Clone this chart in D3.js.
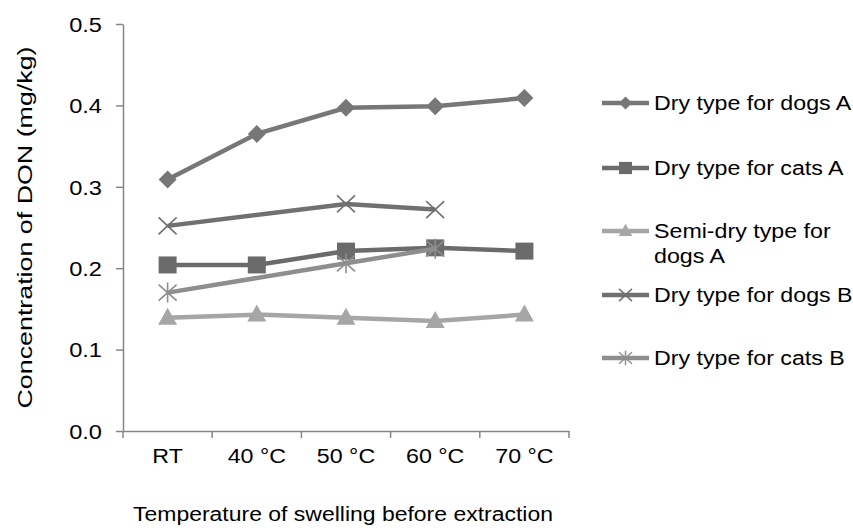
<!DOCTYPE html>
<html>
<head>
<meta charset="utf-8">
<script src="https://cdn.jsdelivr.net/npm/d3@7"></script>
<style>
  body { margin: 0; background: #fff; }
  text { font-family: "Liberation Sans", Arial, sans-serif; fill: #000; }
</style>
</head>
<body>
<div id="chart-container"></div>
<script>
// DON concentration vs swelling temperature
const svgWidth = 853;
const svgHeight = 528;
const margin = { top: 24, right: 284, bottom: 97, left: 123 };
const width = svgWidth - margin.left - margin.right;
const height = svgHeight - margin.top - margin.bottom;

const temps = ["RT", "40 °C", "50 °C", "60 °C", "70 °C"];
const seriesNames = ["Dry type for dogs A", "Dry type for cats A", "Semi-dry type for dogs A", "Dry type for dogs B", "Dry type for cats B"];
const dogsA = [0.309, 0.365, 0.397, 0.399, 0.409];
const catsA = [0.204, 0.204, 0.221, 0.225, 0.221];
const semiDogsA = [0.139, 0.143, 0.139, 0.135, 0.143];
const dogsB = [0.252, null, 0.279, 0.272, null];
const catsB = [0.170, null, 0.206, 0.224, null];
const yTicks = [0, 0.1, 0.2, 0.3, 0.4, 0.5];

const colors = ["#777777", "#6b6b6b", "#a6a6a6", "#707070", "#8e8e8e"];
const markers = ["diamond", "square", "triangle", "x", "star"];
const allValues = [dogsA, catsA, semiDogsA, dogsB, catsB];

// the reference text is drawn wide, so stretch glyphs a bit
function stretch(sel, k) {
    sel.each(function () {
        const len = this.getComputedTextLength();
        d3.select(this).attr("textLength", len * k).attr("lengthAdjust", "spacingAndGlyphs");
    });
}

const svg = d3.select("#chart-container")
    .append("svg")
    .attr("width", svgWidth)
    .attr("height", svgHeight)
    .append("g")
    .attr("transform", `translate(${margin.left},${margin.top})`);

const x = d3.scaleBand().domain(temps).range([0, width]);
const y = d3.scaleLinear().domain([0, 0.5]).range([height, 0]);

// y axis
const yAxis = svg.append("g")
    .call(d3.axisLeft(y).tickValues(yTicks).tickFormat(d3.format(".1f")).tickSize(7).tickSizeOuter(0));
yAxis.selectAll("text").attr("font-size", 20).attr("font-family", null).attr("x", -21).attr("dy", "0.36em");

// x axis, ticks sit between the categories
const xAxis = svg.append("g")
    .attr("transform", `translate(0,${height})`)
    .call(d3.axisBottom(x).tickSize(0).tickSizeOuter(0));
xAxis.selectAll("text").attr("font-size", 20).attr("font-family", null).attr("y", 32).attr("dy", 0);
xAxis.selectAll(".tick line").remove();
svg.append("g").selectAll("line")
    .data(d3.range(temps.length + 1))
    .enter().append("line")
    .attr("x1", i => i * x.step()).attr("x2", i => i * x.step())
    .attr("y1", height).attr("y2", height + 7);

svg.selectAll(".domain, line").attr("stroke", "#868686").attr("stroke-width", 1.5);

function markerPath(type) {
    if (type === "diamond") return "M0,-9L9,0L0,9L-9,0Z";
    if (type === "square") return "M-9,-8.5H9V8.5H-9Z";
    if (type === "triangle") return "M0,-10L9.5,7H-9.5Z";
    if (type === "x") return "M-9,-8.5L9,8.5M-9,8.5L9,-8.5";
    return "M-9,-8L9,8M-9,8L9,-8M0,-10V10";
}
const isOpen = m => m === "x" || m === "star";

const line = d3.line()
    .x(d => x(d.t) + x.bandwidth() / 2)
    .y(d => y(d.v));

allValues.forEach((vals, i) => {
    const pts = temps.map((t, j) => ({ t: t, v: vals[j] })).filter(d => d.v !== null);
    svg.append("path")
        .datum(pts)
        .attr("d", line)
        .attr("fill", "none")
        .attr("stroke", colors[i])
        .attr("stroke-width", 4.5);
    svg.selectAll(".m" + i)
        .data(pts)
        .enter().append("path")
        .attr("transform", d => `translate(${x(d.t) + x.bandwidth() / 2},${y(d.v)})`)
        .attr("d", markerPath(markers[i]))
        .attr("fill", isOpen(markers[i]) ? "none" : colors[i])
        .attr("stroke", colors[i])
        .attr("stroke-width", isOpen(markers[i]) ? 1.6 : 0);
});

// legend
const legendY = [79, 144, 207, 271, 334];
const legend = svg.append("g").attr("transform", `translate(${width + 33},0)`);
seriesNames.forEach((name, i) => {
    const g = legend.append("g").attr("transform", `translate(0,${legendY[i]})`);
    g.append("line").attr("x1", 0).attr("x2", 47).attr("y1", 0).attr("y2", 0)
        .attr("stroke", colors[i]).attr("stroke-width", 4.5);
    g.append("path")
        .attr("transform", "translate(23.5,0) scale(0.72)")
        .attr("d", markerPath(markers[i]))
        .attr("fill", isOpen(markers[i]) ? "none" : colors[i])
        .attr("stroke", colors[i])
        .attr("stroke-width", isOpen(markers[i]) ? 2 : 0);
    const lines = name === "Semi-dry type for dogs A" ? ["Semi-dry type for", "dogs A"] : [name];
    lines.forEach((s, k) => {
        g.append("text").attr("class", "legend-label")
            .attr("x", 52).attr("y", 7 + k * 25)
            .attr("font-size", 20)
            .text(s);
    });
});

// axis titles
const yTitle = svg.append("text")
    .text("Concentration of DON (mg/kg)")
    .attr("font-size", 21)
    .attr("text-anchor", "middle")
    .attr("transform", `translate(${-91},${height / 2}) rotate(-90)`);

const xTitle = svg.append("text")
    .text("Temperature of swelling before extraction")
    .attr("font-size", 20)
    .attr("text-anchor", "middle")
    .attr("x", 220)
    .attr("y", height + 90);

yTitle.attr("textLength", 362).attr("lengthAdjust", "spacingAndGlyphs");
xTitle.attr("textLength", 420).attr("lengthAdjust", "spacingAndGlyphs");
stretch(svg.selectAll(".legend-label"), 1.16);
stretch(yAxis.selectAll("text"), 1.18);
stretch(xAxis.selectAll("text"), 1.16);
</script>
</body>
</html>
